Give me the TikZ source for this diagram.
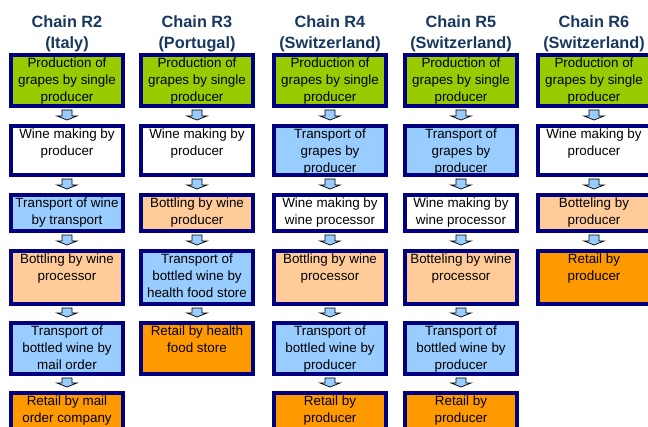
\documentclass[tikz,border=0pt]{standalone}
\usepackage{fontspec}
\setmainfont{Liberation Sans}
\usetikzlibrary{calc}
\definecolor{navy}{RGB}{0,0,128}
\definecolor{hdrblue}{RGB}{23,55,94}
\definecolor{cgreen}{HTML}{99CC00}
\definecolor{cblue}{HTML}{99CCFF}
\definecolor{cpeach}{HTML}{FFCC99}
\definecolor{corange}{HTML}{FF9900}
\newcommand\cb[6]{\node[cbox,fill=#5] (#1) at (#2,{#3+#4/2}) {\parbox[t][\dimexpr#4pt-4pt\relax][t]{112pt}{\centering\fontsize{13.4}{17}\selectfont\rule{0pt}{13pt}#6\par}};}
\newcommand\ca[2]{\draw[flowarrow] ($(#1.south)+(-5,4)$) -- ($(#1.south |- #2.north)+(-5,-10)$) -- ++(-5,0) -- ($(#1.south |- #2.north)+(0,-6)$) -- ++(10,-4) -- ++(-5,0) -- ($(#1.south)+(5,4)$) -- cycle;}
\begin{document}
\begin{tikzpicture}[x=1pt,y=-1pt,
  cbox/.style={rectangle,draw=navy,line width=4pt,inner sep=0pt,outer sep=0pt},
  hdr/.style={anchor=north,align=center,inner sep=0pt,text=hdrblue,font=\fontsize{16.3}{21}\selectfont\bfseries},
  flowarrow/.style={draw=black,line width=0.7pt,fill=cblue,line join=miter}]
\useasboundingbox (0,0) rectangle (648,427);
\clip (0,0) rectangle (648,427);
% headers
\node[hdr] (h2) at (67,15) {Chain R2\\(Italy)};
\node[hdr] (h3) at (197,15) {Chain R3\\(Portugal)};
\node[hdr] (h4) at (330,15) {Chain R4\\(Switzerland)};
\node[hdr] (h5) at (461,15) {Chain R5\\(Switzerland)};
\node[hdr] (h6) at (594,15) {Chain R6\\(Switzerland)};
% Chain R2
\cb{a1}{67}{53}{55}{cgreen}{Production of\\grapes by single\\producer}
\cb{a2}{67}{124}{53}{white}{Wine making by\\producer}
\cb{a3}{67}{193}{40}{cblue}{Transport of wine\\by transport}
\cb{a4}{67}{249}{57}{cpeach}{Bottling by wine\\processor}
\cb{a5}{67}{321}{55}{cblue}{Transport of\\bottled wine by\\mail order}
\cb{a6}{67}{391}{55}{corange}{Retail by mail\\order company}
\ca{a1}{a2}\ca{a2}{a3}\ca{a3}{a4}\ca{a4}{a5}\ca{a5}{a6}
% Chain R3
\cb{b1}{197}{53}{55}{cgreen}{Production of\\grapes by single\\producer}
\cb{b2}{197}{124}{53}{white}{Wine making by\\producer}
\cb{b3}{197}{193}{40}{cpeach}{Bottling by wine\\producer}
\cb{b4}{197}{249}{57}{cblue}{Transport of\\bottled wine by\\health food store}
\cb{b5}{197}{321}{55}{corange}{Retail by health\\food store}
\ca{b1}{b2}\ca{b2}{b3}\ca{b3}{b4}\ca{b4}{b5}
% Chain R4
\cb{c1}{330}{53}{55}{cgreen}{Production of\\grapes by single\\producer}
\cb{c2}{330}{124}{53}{cblue}{Transport of\\grapes by\\producer}
\cb{c3}{330}{193}{40}{white}{Wine making by\\wine processor}
\cb{c4}{330}{249}{57}{cpeach}{Bottling by wine\\processor}
\cb{c5}{330}{321}{55}{cblue}{Transport of\\bottled wine by\\producer}
\cb{c6}{330}{391}{55}{corange}{Retail by\\producer}
\ca{c1}{c2}\ca{c2}{c3}\ca{c3}{c4}\ca{c4}{c5}\ca{c5}{c6}
% Chain R5
\cb{d1}{461}{53}{55}{cgreen}{Production of\\grapes by single\\producer}
\cb{d2}{461}{124}{53}{cblue}{Transport of\\grapes by\\producer}
\cb{d3}{461}{193}{40}{white}{Wine making by\\wine processor}
\cb{d4}{461}{249}{57}{cpeach}{Botteling by wine\\processor}
\cb{d5}{461}{321}{55}{cblue}{Transport of\\bottled wine by\\producer}
\cb{d6}{461}{391}{55}{corange}{Retail by\\producer}
\ca{d1}{d2}\ca{d2}{d3}\ca{d3}{d4}\ca{d4}{d5}\ca{d5}{d6}
% Chain R6
\cb{e1}{594}{53}{55}{cgreen}{Production of\\grapes by single\\producer}
\cb{e2}{594}{124}{53}{white}{Wine making by\\producer}
\cb{e3}{594}{193}{40}{cpeach}{Botteling by\\producer}
\cb{e4}{594}{249}{57}{corange}{Retail by\\producer}
\ca{e1}{e2}\ca{e2}{e3}\ca{e3}{e4}
\end{tikzpicture}
\end{document}
